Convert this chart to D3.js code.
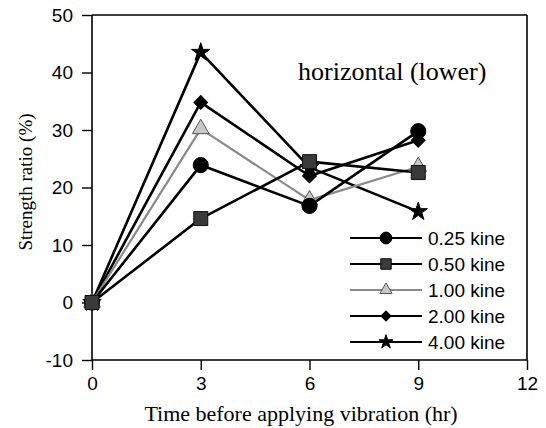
<!DOCTYPE html>
<html>
<head>
<meta charset="utf-8">
<script src="https://cdn.jsdelivr.net/npm/d3@7"></script>
<style>
  body { margin: 0; background: #fff; }
  svg text { fill: #000; }
</style>
</head>
<body>
<div id="vis"></div>
<script>
// values
var times = [0, 3, 6, 9];
var xTicks = [0, 3, 6, 9, 12];
var yTicks = [-10, 0, 10, 20, 30, 40, 50];
var seriesNames = ["0.25 kine", "0.50 kine", "1.00 kine", "2.00 kine", "4.00 kine"];
var kine025 = [0, 23.9, 16.8, 29.8];
var kine050 = [0, 14.6, 24.5, 22.6];
var kine100 = [0, 30.2, 17.8, 23.6];
var kine200 = [0, 34.8, 22.0, 28.2];
var kine400 = [0, 43.5, 23.5, 15.8];

var width = 546, height = 428;

var svg = d3.select("#vis").append("svg")
  .attr("width", width)
  .attr("height", height);

var x = d3.scaleLinear().domain([0, 12]).range([92, 527]),
    y = d3.scaleLinear().domain([-10, 50]).range([360, 15]);

// marker styles for each series (diamond = square turned 45deg)
var styles = [
  {values: kine025, sym: d3.symbolCircle, size: 180, legSize: 110, rot: 0, fill: "#000", stroke: "#000", line: "#000", lw: 2.6},
  {values: kine050, sym: d3.symbolSquare, size: 196, legSize: 110, rot: 0, fill: "#3a3a3a", stroke: "#111", line: "#000", lw: 2.6},
  {values: kine100, sym: d3.symbolTriangle, size: 120, legSize: 65, rot: 0, fill: "#c8c8c8", stroke: "#555", line: "#8a8a8a", lw: 2.2},
  {values: kine200, sym: d3.symbolSquare, size: 95, legSize: 50, rot: 45, fill: "#000", stroke: "#000", line: "#000", lw: 2.6},
  {values: kine400, sym: d3.symbolStar, size: 105, legSize: 60, rot: 0, fill: "#000", stroke: "#000", line: "#000", lw: 2.6}
];

// frame: top and right borders
svg.append("line")
  .attr("x1", x(0)).attr("x2", x(12))
  .attr("y1", y(50)).attr("y2", y(50))
  .attr("stroke", "#000").attr("stroke-width", 1.6);
svg.append("line")
  .attr("x1", x(12)).attr("x2", x(12))
  .attr("y1", y(50)).attr("y2", y(-10))
  .attr("stroke", "#000").attr("stroke-width", 1.6);

// axes
var fmt = function(d) { return String(d); };
var xAxis = svg.append("g")
  .attr("transform", "translate(0," + y(-10) + ")")
  .call(d3.axisBottom(x).tickValues(xTicks).tickSize(10).tickPadding(7).tickFormat(fmt));
var yAxis = svg.append("g")
  .attr("transform", "translate(" + x(0) + ",0)")
  .call(d3.axisLeft(y).tickValues(yTicks).tickSize(10).tickPadding(9).tickFormat(fmt));

[xAxis, yAxis].forEach(function(a) {
  a.select(".domain").attr("stroke", "#000").attr("stroke-width", 1.6);
  a.selectAll(".tick line").attr("stroke", "#000").attr("stroke-width", 1.4);
  a.selectAll(".tick text")
    .attr("font-family", "Liberation Sans, Arial, sans-serif")
    .attr("font-size", "19px")
    .attr("fill", "#000");
});
xAxis.select(".domain").attr("d", "M" + x(0) + ",0H" + x(12));
yAxis.select(".domain").attr("d", "M0," + y(-10) + "V" + y(50));

// axis titles
svg.append("text")
  .attr("x", 301)
  .attr("y", 421)
  .attr("text-anchor", "middle")
  .attr("font-family", "Liberation Serif, Times New Roman, serif")
  .attr("font-size", "22px")
  .text("Time before applying vibration (hr)");

svg.append("text")
  .attr("transform", "translate(32," + 182 + ") rotate(-90)")
  .attr("text-anchor", "middle")
  .attr("font-family", "Liberation Serif, Times New Roman, serif")
  .attr("font-size", "19px")
  .text("Strength ratio (%)");

// panel title
svg.append("text")
  .attr("x", 298)
  .attr("y", 80)
  .attr("font-family", "Liberation Serif, Times New Roman, serif")
  .attr("font-size", "26px")
  .text("horizontal (lower)");

// lines
var line = d3.line()
  .x(function(d, i) { return x(times[i]); })
  .y(function(d) { return y(d); });

var order = [4, 3, 2, 0, 1];

order.forEach(function(k) {
  var s = styles[k];
  svg.append("path")
    .datum(s.values)
    .attr("d", line)
    .attr("fill", "none")
    .attr("stroke", s.line)
    .attr("stroke-width", s.lw)
    .attr("stroke-linejoin", "round");
});

// markers
order.forEach(function(k) {
  var s = styles[k];
  svg.selectAll(".m" + k)
    .data(s.values)
    .enter().append("path")
    .attr("class", "m" + k)
    .attr("transform", function(d, i) { return "translate(" + x(times[i]) + "," + y(d) + ") rotate(" + s.rot + ")"; })
    .attr("d", d3.symbol().type(s.sym).size(s.size))
    .attr("fill", s.fill)
    .attr("stroke", s.stroke)
    .attr("stroke-width", 1);
});

// legend
var legend = svg.append("g");
var legX1 = 350, legX2 = 422, legY0 = 238, legStep = 26;

styles.forEach(function(s, i) {
  var ly = legY0 + i * legStep;
  legend.append("line")
    .attr("x1", legX1).attr("x2", legX2)
    .attr("y1", ly).attr("y2", ly)
    .attr("stroke", s.line)
    .attr("stroke-width", s.lw - 0.4);
  legend.append("path")
    .attr("transform", "translate(" + ((legX1 + legX2) / 2) + "," + ly + ") rotate(" + s.rot + ")")
    .attr("d", d3.symbol().type(s.sym).size(s.legSize))
    .attr("fill", s.fill)
    .attr("stroke", s.stroke)
    .attr("stroke-width", 1);
  legend.append("text")
    .attr("x", legX2 + 6)
    .attr("y", ly + 7)
    .attr("font-family", "Liberation Sans, Arial, sans-serif")
    .attr("font-size", "19px")
    .text(seriesNames[i]);
});
</script>
</body>
</html>
